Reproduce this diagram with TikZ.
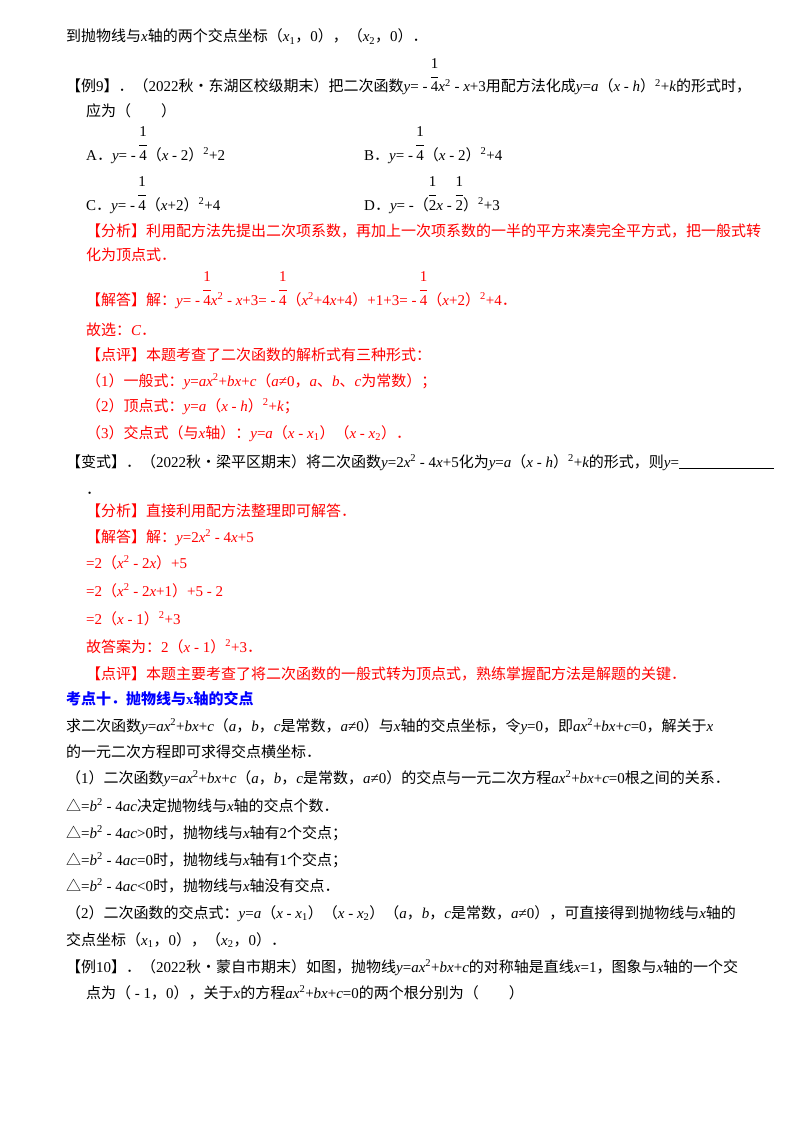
\documentclass[tikz,border=0pt]{standalone}
\usepackage{fontspec}
\setmainfont{Noto Sans CJK SC}
\newfontfamily\lser{Liberation Serif}
\newcommand\iv[1]{{\lser\itshape #1}}
\newcommand\m[1]{{\lser #1}}
\newcommand\ffr[2]{{\lser\begin{tabular}[b]{@{}c@{}}#1\\[3pt]\hline\rule{0pt}{15pt}#2\end{tabular}}}
\newcommand\sq{\textsuperscript{\m{2}}}
\definecolor{ansred}{RGB}{255,0,0}
\definecolor{hdblue}{RGB}{0,0,255}
\begin{document}
\begin{tikzpicture}[x=1pt,y=-1pt,
  ln/.style={anchor=base west,inner sep=0pt,font=\fontsize{15}{17}\selectfont},
  rd/.style={ln,text=ansred},
  hd/.style={ln,text=hdblue,font=\fontsize{15}{17}\selectfont\bfseries}]
\useasboundingbox (0,0) rectangle (800,1132);
\node[ln] (a1) at (66,42) {到抛物线与\iv{x}轴的两个交点坐标（\iv{x}\textsubscript{\m{1}}，\m{0}），（\iv{x}\textsubscript{\m{2}}，\m{0}）．};
\node[ln] (a2) at (66,92) {【例\m{9}】．（\m{2022}秋•东湖区校级期末）把二次函数\iv{y}\m{= -} \ffr{1}{4}\iv{x}\sq\m{ - }\iv{x}\m{+3}用配方法化成\iv{y}\m{=}\iv{a}（\iv{x}\m{ - }\iv{h}）\sq\m{+}\iv{k}的形式时，};
\node[ln] (a3) at (86,116) {应为（\quad\quad）};
\node[ln] (a4) at (86,160) {\m{A}．\iv{y}\m{= -} \ffr{1}{4}（\iv{x}\m{ - 2}）\sq\m{+2}};
\node[ln] (a5) at (364,160) {\m{B}．\iv{y}\m{= -} \ffr{1}{4}（\iv{x}\m{ - 2}）\sq\m{+4}};
\node[ln] (a6) at (86,210) {\m{C}．\iv{y}\m{= -} \ffr{1}{4}（\iv{x}\m{+2}）\sq\m{+4}};
\node[ln] (a7) at (364,210) {\m{D}．\iv{y}\m{= -}（\ffr{1}{2}\iv{x}\m{ - }\ffr{1}{2}）\sq\m{+3}};
\node[rd] (a8) at (86,236) {【分析】利用配方法先提出二次项系数，再加上一次项系数的一半的平方来凑完全平方式，把一般式转};
\node[rd] (a9) at (86,260) {化为顶点式．};
\node[rd] (a10) at (86,305) {【解答】解：\iv{y}\m{= -} \ffr{1}{4}\iv{x}\sq\m{ - }\iv{x}\m{+3= -} \ffr{1}{4}（\iv{x}\sq\m{+4}\iv{x}\m{+4}）\m{+1+3= -} \ffr{1}{4}（\iv{x}\m{+2}）\sq\m{+4}．};
\node[rd] (a11) at (86,335) {故选：\iv{C}．};
\node[rd] (a12) at (86,360) {【点评】本题考查了二次函数的解析式有三种形式：};
\node[rd] (a13) at (86,386) {（\m{1}）一般式：\iv{y}\m{=}\iv{ax}\sq\m{+}\iv{bx}\m{+}\iv{c}（\iv{a}\m{≠0}，\iv{a}、\iv{b}、\iv{c}为常数）；};
\node[rd] (a14) at (86,411) {（\m{2}）顶点式：\iv{y}\m{=}\iv{a}（\iv{x}\m{ - }\iv{h}）\sq\m{+}\iv{k}；};
\node[rd] (a15) at (86,438) {（\m{3}）交点式（与\iv{x}轴）：\iv{y}\m{=}\iv{a}（\iv{x}\m{ - }\iv{x}\textsubscript{\m{1}}）（\iv{x}\m{ - }\iv{x}\textsubscript{\m{2}}）．};
\node[ln] (a16) at (66,467) {【变式】．（\m{2022}秋•梁平区期末）将二次函数\iv{y}\m{=2}\iv{x}\sq\m{ - 4}\iv{x}\m{+5}化为\iv{y}\m{=}\iv{a}（\iv{x}\m{ - }\iv{h}）\sq\m{+}\iv{k}的形式，则\iv{y}\m{=}};
\draw (679,468) -- (774,468);
\node[ln] (a17) at (86,494) {．};
\node[rd] (a18) at (86,516) {【分析】直接利用配方法整理即可解答．};
\node[rd] (a19) at (86,542) {【解答】解：\iv{y}\m{=2}\iv{x}\sq\m{ - 4}\iv{x}\m{+5}};
\node[rd] (a20) at (86,568) {\m{=2}（\iv{x}\sq\m{ - 2}\iv{x}）\m{+5}};
\node[rd] (a21) at (86,596) {\m{=2}（\iv{x}\sq\m{ - 2}\iv{x}\m{+1}）\m{+5 - 2}};
\node[rd] (a22) at (86,624) {\m{=2}（\iv{x}\m{ - 1}）\sq\m{+3}};
\node[rd] (a23) at (86,652) {故答案为：\m{2}（\iv{x}\m{ - 1}）\sq\m{+3}．};
\node[rd] (a24) at (86,679) {【点评】本题主要考查了将二次函数的一般式转为顶点式，熟练掌握配方法是解题的关键．};
\node[hd] (a25) at (66,704) {考点十．抛物线与\m{\bfseries x}轴的交点};
\node[ln] (a26) at (66,731) {求二次函数\iv{y}\m{=}\iv{ax}\sq\m{+}\iv{bx}\m{+}\iv{c}（\iv{a}，\iv{b}，\iv{c}是常数，\iv{a}\m{≠0}）与\iv{x}轴的交点坐标，令\iv{y}\m{=0}，即\iv{ax}\sq\m{+}\iv{bx}\m{+}\iv{c}\m{=0}，解关于\iv{x}};
\node[ln] (a27) at (66,757) {的一元二次方程即可求得交点横坐标．};
\node[ln] (a28) at (66,783) {（\m{1}）二次函数\iv{y}\m{=}\iv{ax}\sq\m{+}\iv{bx}\m{+}\iv{c}（\iv{a}，\iv{b}，\iv{c}是常数，\iv{a}\m{≠0}）的交点与一元二次方程\iv{ax}\sq\m{+}\iv{bx}\m{+}\iv{c}\m{=0}根之间的关系．};
\node[ln] (a29) at (66,811) {△\m{=}\iv{b}\sq\m{ - 4}\iv{ac}决定抛物线与\iv{x}轴的交点个数．};
\node[ln] (a30) at (66,838) {△\m{=}\iv{b}\sq\m{ - 4}\iv{ac}\m{>0}时，抛物线与\iv{x}轴有\m{2}个交点；};
\node[ln] (a31) at (66,865) {△\m{=}\iv{b}\sq\m{ - 4}\iv{ac}\m{=0}时，抛物线与\iv{x}轴有\m{1}个交点；};
\node[ln] (a32) at (66,891) {△\m{=}\iv{b}\sq\m{ - 4}\iv{ac}\m{<0}时，抛物线与\iv{x}轴没有交点．};
\node[ln] (a33) at (66,918) {（\m{2}）二次函数的交点式：\iv{y}\m{=}\iv{a}（\iv{x}\m{ - }\iv{x}\textsubscript{\m{1}}）（\iv{x}\m{ - }\iv{x}\textsubscript{\m{2}}）（\iv{a}，\iv{b}，\iv{c}是常数，\iv{a}\m{≠0}），可直接得到抛物线与\iv{x}轴的};
\node[ln] (a34) at (66,945) {交点坐标（\iv{x}\textsubscript{\m{1}}，\m{0}），（\iv{x}\textsubscript{\m{2}}，\m{0}）．};
\node[ln] (a35) at (66,972) {【例\m{10}】．（\m{2022}秋•蒙自市期末）如图，抛物线\iv{y}\m{=}\iv{ax}\sq\m{+}\iv{bx}\m{+}\iv{c}的对称轴是直线\iv{x}\m{=1}，图象与\iv{x}轴的一个交};
\node[ln] (a36) at (86,998) {点为（\m{ - 1}，\m{0}），关于\iv{x}的方程\iv{ax}\sq\m{+}\iv{bx}\m{+}\iv{c}\m{=0}的两个根分别为（\quad\quad）};
\end{tikzpicture}
\end{document}
